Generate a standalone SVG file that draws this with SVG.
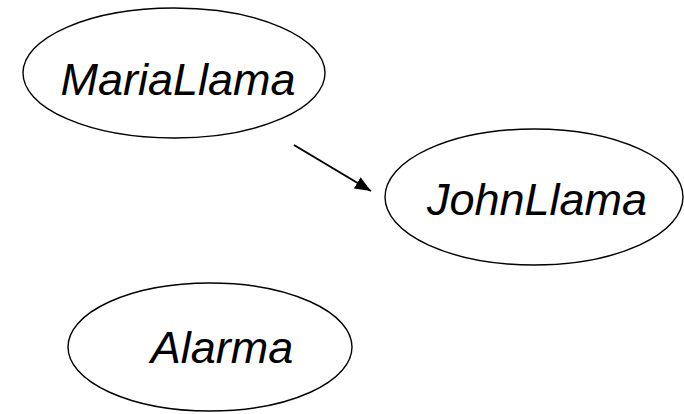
<svg xmlns="http://www.w3.org/2000/svg" width="684" height="414" viewBox="0 0 684 414">
<style>
.node ellipse{fill:#fff;stroke:#000;stroke-width:1.4}
.node text{font-family:"Liberation Sans",Arial,sans-serif;font-style:italic;font-size:45px;fill:#000;text-anchor:middle}
.edge{stroke:#000;stroke-width:2;fill:none}
</style>
<defs>
<marker id="arr" markerWidth="16" markerHeight="13" refX="16" refY="6.5" orient="auto" markerUnits="userSpaceOnUse" viewBox="0 0 16 13">
<path d="M0,0 L16,6.5 L0,13 z" fill="#000"/>
</marker>
</defs>
<rect width="684" height="414" fill="#fff"/>
<g id="connectors">
<line class="edge" x1="294" y1="145" x2="371" y2="191" marker-end="url(#arr)"/>
</g>
<g id="MariaLlama" class="node">
<ellipse cx="174" cy="73" rx="151" ry="65"/>
<text x="178" y="95">MariaLlama</text>
</g>
<g id="JohnLlama" class="node">
<ellipse cx="534" cy="197" rx="149" ry="68"/>
<text x="537" y="215">JohnLlama</text>
</g>
<g id="Alarma" class="node">
<ellipse cx="210" cy="347" rx="142" ry="64"/>
<text x="222" y="363">Alarma</text>
</g>
</svg>
